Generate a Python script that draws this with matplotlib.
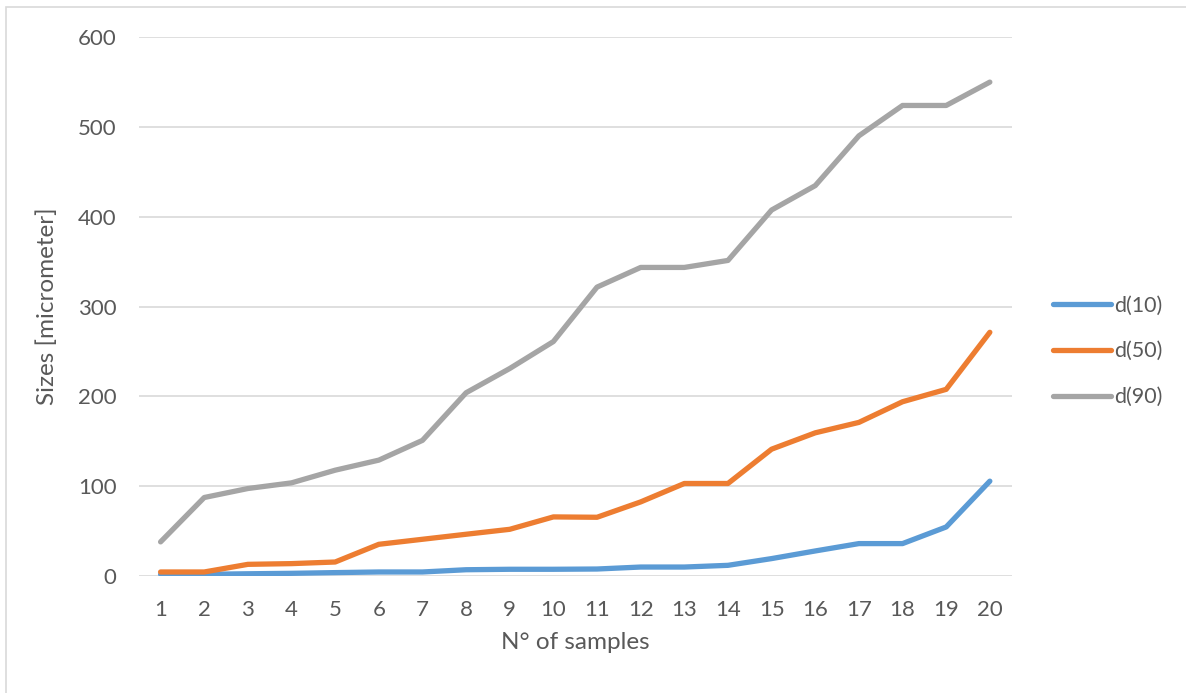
"""Particle size distribution (d10 / d50 / d90) per sample."""

import matplotlib.pyplot as plt
from matplotlib.patches import Rectangle

samples = list(range(1, 21))
d10 = [1.9, 1.9, 2.5, 3.0, 3.8, 4.5, 4.5, 7.0, 7.5, 7.5,
       7.8, 10.0, 10.0, 11.9, 19.4, 27.9, 36.1, 36.1, 54.6, 105.6]
d50 = [4.5, 4.5, 13.0, 13.8, 15.6, 35.3, 40.9, 46.5, 52.0, 65.8,
       65.4, 82.5, 103.0, 103.0, 141.2, 159.4, 171.0, 194.0, 207.8, 271.3]
d90 = [38.0, 87.4, 97.4, 103.7, 117.8, 129.0, 151.0, 204.0, 231.0, 261.0,
       321.6, 343.5, 343.5, 351.3, 407.4, 434.6, 490.0, 523.8, 523.8, 549.8]
y_ticks = [0, 100, 200, 300, 400, 500, 600]

series = [("d(10)", d10, "#5B9BD5"),
          ("d(50)", d50, "#ED7D31"),
          ("d(90)", d90, "#A5A5A5")]

text_color = "#595959"
plt.rcParams["font.family"] = ["Lato", "DejaVu Sans"]

fig = plt.figure(figsize=(11.86, 6.93), dpi=100)
ax = fig.add_axes([0.117, 0.1688, 0.736, 0.7778])

# outer chart frame like Excel
fig.patches.append(Rectangle((6 / 1186, -0.1), 1.2, 1 - 7 / 693 + 0.1,
                             transform=fig.transFigure, fill=False,
                             edgecolor="#D9D9D9", linewidth=1.2))

for label, values, color in series:
    ax.plot(samples, values, color=color, linewidth=3.8, label=label,
            solid_capstyle="round", solid_joinstyle="round")

ax.set_xlim(0.5, 20.5)
ax.set_ylim(0, 600)
ax.set_xticks(samples)
ax.set_yticks(y_ticks)
ax.grid(axis="y", color="#D9D9D9", linewidth=1.2)
ax.set_axisbelow(True)
for spine in ax.spines.values():
    spine.set_visible(False)
ax.tick_params(axis="both", length=0, labelsize=16, colors=text_color)
ax.tick_params(axis="y", pad=16)
ax.tick_params(axis="x", pad=17)

ax.set_xlabel("N° of samples", fontsize=17.5, color=text_color, labelpad=9)
ax.set_ylabel("Sizes [micrometer]", fontsize=17.5, color=text_color, labelpad=14)

leg = ax.legend(loc="center left", bbox_to_anchor=(1.025, 0.417), frameon=False,
                fontsize=15.5, handlelength=2.7, handletextpad=0.15,
                labelspacing=1.2, labelcolor=text_color)

fig.savefig("out.png", dpi=100)
